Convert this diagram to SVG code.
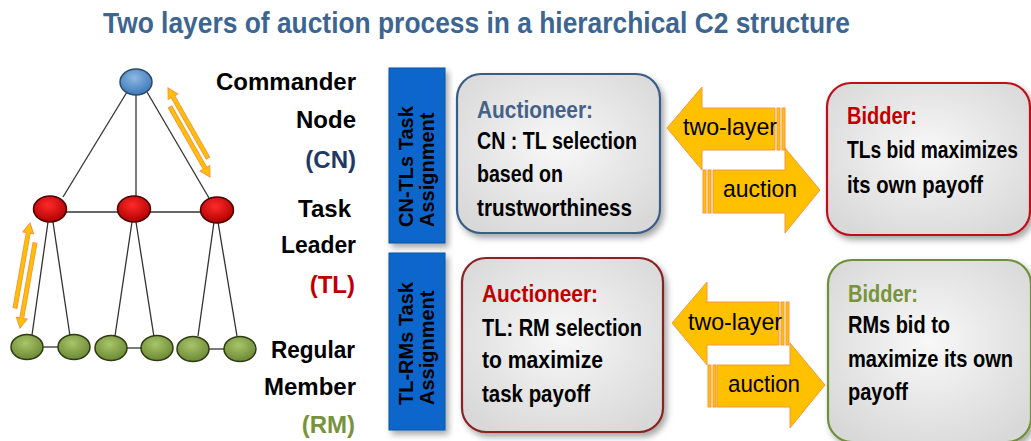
<svg xmlns="http://www.w3.org/2000/svg" width="1031" height="441" viewBox="0 0 1031 441">
<defs>
<style>
.t{font-family:"Liberation Sans",Arial,sans-serif;font-weight:bold}
.lbl{font-family:"Liberation Sans",Arial,sans-serif;font-weight:bold;font-size:24px;text-anchor:end;fill:#000}
.bt{font-family:"Liberation Sans",Arial,sans-serif;font-weight:bold;font-size:24px;fill:#000}
.at{font-family:"Liberation Sans",Arial,sans-serif;font-size:24px;fill:#000}
.vt{font-family:"Liberation Sans",Arial,sans-serif;font-weight:bold;font-size:20px;fill:#000}
.edge{stroke:#333;stroke-width:1.3;fill:none}
.sa{fill:#FFC000;stroke:#F79646;stroke-width:1}
.ba{fill:#FFC000;stroke:#F79646;stroke-width:1}
.vbox{fill:#0A66CC;stroke:#0A50A0;stroke-width:1}
.box{fill:url(#boxg);stroke-width:2.2}
</style>
<radialGradient id="boxg" cx="50%" cy="45%" r="65%">
<stop offset="0" stop-color="#F8F8F8"/>
<stop offset="1" stop-color="#D8D8D8"/>
</radialGradient>
<radialGradient id="gb" cx="45%" cy="35%" r="65%">
<stop offset="0" stop-color="#8DB8E4"/>
<stop offset="1" stop-color="#3E78B6"/>
</radialGradient>
<radialGradient id="gr" cx="45%" cy="35%" r="65%">
<stop offset="0" stop-color="#FF2A2A"/>
<stop offset="1" stop-color="#B00000"/>
</radialGradient>
<radialGradient id="gg" cx="45%" cy="35%" r="65%">
<stop offset="0" stop-color="#A9C46A"/>
<stop offset="1" stop-color="#6B8A34"/>
</radialGradient>
<filter id="sh" x="-10%" y="-10%" width="125%" height="125%">
<feDropShadow dx="3" dy="4" stdDeviation="3" flood-color="#000" flood-opacity="0.35"/>
</filter>
</defs>
<rect width="1031" height="441" fill="#FFFFFF"/>

<text id="title" class="t" x="103" y="33" font-size="29" fill="#3D6592" textLength="747" lengthAdjust="spacingAndGlyphs">Two layers of auction process in a hierarchical C2 structure</text>

<g id="connectors">
<line class="edge" x1="127" y1="92" x2="63" y2="197"/>
<line class="edge" x1="136" y1="95" x2="136" y2="196"/>
<line class="edge" x1="147" y1="92" x2="209" y2="198"/>
<line class="edge" x1="66" y1="212" x2="118" y2="212"/>
<line class="edge" x1="150" y1="212" x2="201" y2="212"/>
<line class="edge" x1="48" y1="222" x2="32" y2="335"/>
<line class="edge" x1="53" y1="222" x2="70" y2="336"/>
<line class="edge" x1="132" y1="222" x2="115" y2="336"/>
<line class="edge" x1="136" y1="222" x2="154" y2="337"/>
<line class="edge" x1="214" y1="222" x2="198" y2="336"/>
<line class="edge" x1="218" y1="222" x2="237" y2="336"/>
<line class="edge" x1="42" y1="347" x2="60" y2="347"/>
<line class="edge" x1="126" y1="348" x2="143" y2="348"/>
<line class="edge" x1="208" y1="349" x2="225" y2="349"/>
<path class="sa" transform="translate(168,88) rotate(60.3)" d="M0,0 L10,-5.5 L10,-2 L80.6,-2 L80.6,2 L10,2 L10,5.5 Z"/>
<path class="sa" transform="translate(210,177) rotate(-119.7)" d="M0,0 L10,-5.5 L10,-2 L80.6,-2 L80.6,2 L10,2 L10,5.5 Z"/>
<path class="sa" transform="translate(30,223) rotate(100)" d="M0,0 L10,-5.5 L10,-2 L86.3,-2 L86.3,2 L10,2 L10,5.5 Z"/>
<path class="sa" transform="translate(20,328) rotate(-80)" d="M0,0 L10,-5.5 L10,-2 L86.3,-2 L86.3,2 L10,2 L10,5.5 Z"/>
</g>

<g id="cn"><ellipse cx="136" cy="82" rx="16" ry="13" fill="url(#gb)" stroke="#2B4A6E" stroke-width="1.5"/></g>
<g id="tl1"><ellipse cx="50" cy="209" rx="16.5" ry="13" fill="url(#gr)" stroke="#4A0000" stroke-width="1.5"/></g>
<g id="tl2"><ellipse cx="134" cy="209" rx="16.5" ry="13" fill="url(#gr)" stroke="#4A0000" stroke-width="1.5"/></g>
<g id="tl3"><ellipse cx="217" cy="210" rx="16.5" ry="13" fill="url(#gr)" stroke="#4A0000" stroke-width="1.5"/></g>
<g id="rm1"><ellipse cx="27" cy="347" rx="16" ry="12.5" fill="url(#gg)" stroke="#2E3A14" stroke-width="1.5"/></g>
<g id="rm2"><ellipse cx="74" cy="347" rx="16" ry="12.5" fill="url(#gg)" stroke="#2E3A14" stroke-width="1.5"/></g>
<g id="rm3"><ellipse cx="111" cy="348" rx="16" ry="12.5" fill="url(#gg)" stroke="#2E3A14" stroke-width="1.5"/></g>
<g id="rm4"><ellipse cx="157" cy="348" rx="16" ry="12.5" fill="url(#gg)" stroke="#2E3A14" stroke-width="1.5"/></g>
<g id="rm5"><ellipse cx="193" cy="349" rx="16" ry="12.5" fill="url(#gg)" stroke="#2E3A14" stroke-width="1.5"/></g>
<g id="rm6"><ellipse cx="240" cy="349" rx="16" ry="12.5" fill="url(#gg)" stroke="#2E3A14" stroke-width="1.5"/></g>

<g id="labels">
<text class="lbl" x="356" y="90">Commander</text>
<text class="lbl" x="356" y="128">Node</text>
<text class="lbl" x="356" y="168" style="fill:#1F3864">(CN)</text>
<text class="lbl" x="351" y="217">Task</text>
<text class="lbl" x="356" y="253" textLength="75" lengthAdjust="spacingAndGlyphs">Leader</text>
<text class="lbl" x="355" y="293" style="fill:#C00000">(TL)</text>
<text class="lbl" x="355" y="358" textLength="84" lengthAdjust="spacingAndGlyphs">Regular</text>
<text class="lbl" x="356" y="395">Member</text>
<text class="lbl" x="355" y="433" style="fill:#77933C">(RM)</text>
</g>

<g id="cn-tls-assignment">
<rect class="vbox" x="389" y="68" width="56" height="175" filter="url(#sh)"/>
<text class="vt" transform="translate(413,227) rotate(-90)">CN-TLs Task</text>
<text class="vt" transform="translate(434,227) rotate(-90)">Assignment</text>
</g>
<g id="tl-rms-assignment">
<rect class="vbox" x="389" y="253" width="56" height="177" filter="url(#sh)"/>
<text class="vt" transform="translate(413,405) rotate(-90)">TL-RMs Task</text>
<text class="vt" transform="translate(434,405) rotate(-90)">Assignment</text>
</g>

<g id="auctioneer-cn">
<rect class="box" x="457" y="74" width="203" height="159" rx="24" stroke="#3B5C85" filter="url(#sh)"/>
<text class="bt" x="477" y="118" style="fill:#44618A" textLength="116" lengthAdjust="spacingAndGlyphs">Auctioneer:</text>
<text class="bt" x="477" y="149" textLength="160" lengthAdjust="spacingAndGlyphs">CN : TL selection</text>
<text class="bt" x="477" y="182" textLength="86" lengthAdjust="spacingAndGlyphs">based on</text>
<text class="bt" x="477" y="216" textLength="155" lengthAdjust="spacingAndGlyphs">trustworthiness</text>
</g>

<g id="bidder-tl">
<rect class="box" x="827" y="83" width="203" height="152" rx="24" stroke="#C0101A" filter="url(#sh)"/>
<text class="bt" x="847" y="124" style="fill:#C00000" textLength="70" lengthAdjust="spacingAndGlyphs">Bidder:</text>
<text class="bt" x="847" y="158" textLength="171" lengthAdjust="spacingAndGlyphs">TLs bid maximizes</text>
<text class="bt" x="847" y="193" textLength="136" lengthAdjust="spacingAndGlyphs">its own payoff</text>
</g>

<g id="auctioneer-tl">
<rect class="box" x="462" y="258" width="201" height="174" rx="24" stroke="#8B2323" filter="url(#sh)"/>
<text class="bt" x="482" y="302" style="fill:#C00000" textLength="116" lengthAdjust="spacingAndGlyphs">Auctioneer:</text>
<text class="bt" x="482" y="336" textLength="160" lengthAdjust="spacingAndGlyphs">TL: RM selection</text>
<text class="bt" x="482" y="368" textLength="121" lengthAdjust="spacingAndGlyphs">to maximize</text>
<text class="bt" x="482" y="402" textLength="108" lengthAdjust="spacingAndGlyphs">task payoff</text>
</g>

<g id="bidder-rm">
<rect class="box" x="828" y="260" width="203" height="182" rx="24" stroke="#6F8F3A" filter="url(#sh)"/>
<text class="bt" x="848" y="302" style="fill:#77933C" textLength="70" lengthAdjust="spacingAndGlyphs">Bidder:</text>
<text class="bt" x="848" y="333" textLength="102" lengthAdjust="spacingAndGlyphs">RMs bid to</text>
<text class="bt" x="848" y="367" textLength="165" lengthAdjust="spacingAndGlyphs">maximize its own</text>
<text class="bt" x="848" y="400" textLength="60" lengthAdjust="spacingAndGlyphs">payoff</text>
</g>

<g id="auction-arrows-top">
<path class="ba" d="M667,128 L702,87 L702,108 L775,108 L775,150 L702,150 L702,170 Z"/>
<rect class="ba" x="777" y="108" width="3" height="42"/>
<rect class="ba" x="782" y="108" width="3" height="42"/>
<path class="ba" d="M713,170 L785,170 L785,148 L820,190 L785,233 L785,213 L713,213 Z"/>
<rect class="ba" x="703" y="170" width="3" height="43"/>
<rect class="ba" x="708" y="170" width="3" height="43"/>
<text class="at" x="683" y="135" textLength="94" lengthAdjust="spacingAndGlyphs">two-layer</text>
<text class="at" x="723" y="197" textLength="74" lengthAdjust="spacingAndGlyphs">auction</text>
</g>

<g id="auction-arrows-bottom">
<path class="ba" d="M672,323 L707,282 L707,302 L779,302 L779,345 L707,345 L707,365 Z"/>
<rect class="ba" x="781" y="302" width="3" height="43"/>
<rect class="ba" x="786" y="302" width="3" height="43"/>
<path class="ba" d="M717,365 L790,365 L790,343 L825,385 L790,428 L790,407 L717,407 Z"/>
<rect class="ba" x="708" y="365" width="3" height="42"/>
<rect class="ba" x="713" y="365" width="3" height="42"/>
<text class="at" x="688" y="330" textLength="94" lengthAdjust="spacingAndGlyphs">two-layer</text>
<text class="at" x="728" y="392" textLength="72" lengthAdjust="spacingAndGlyphs">auction</text>
</g>
</svg>
